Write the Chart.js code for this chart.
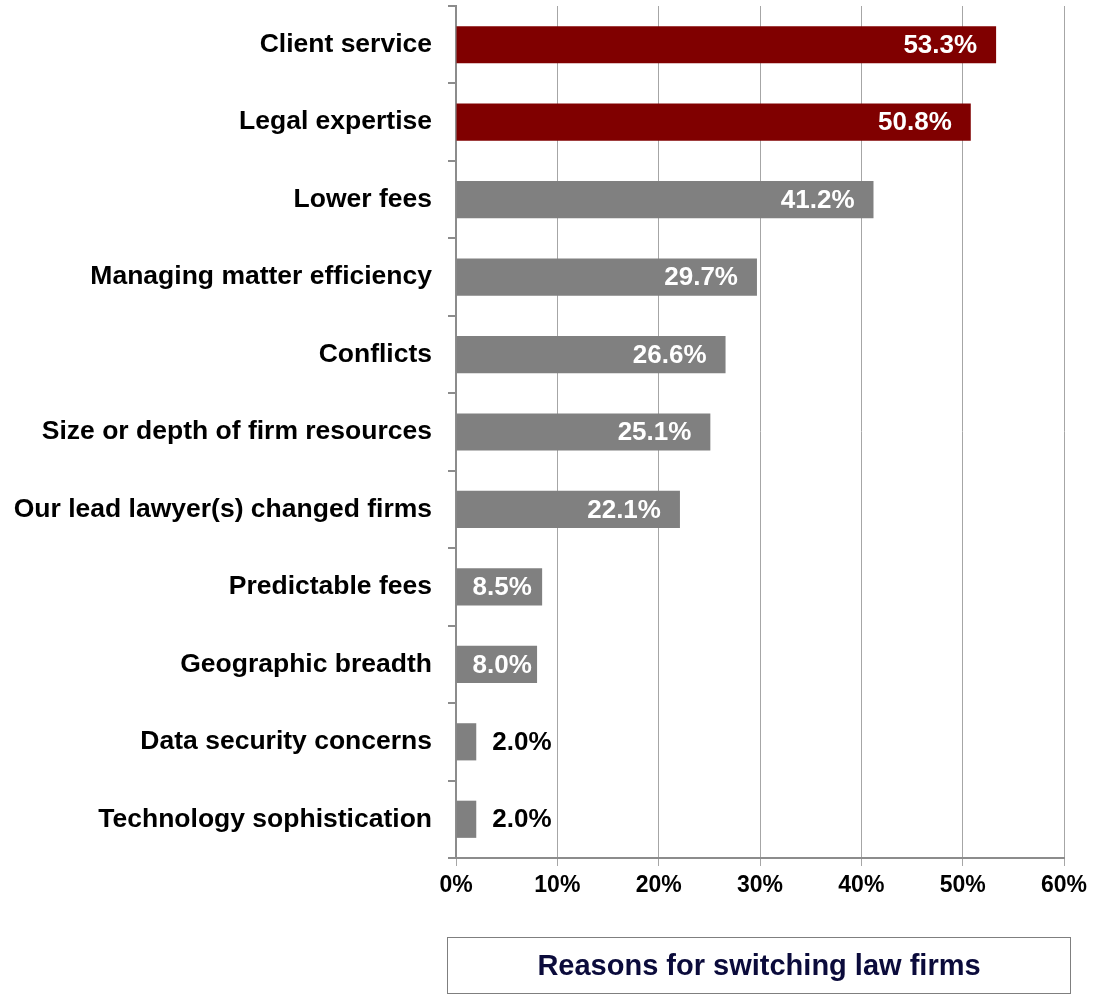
<!DOCTYPE html>
<html>
<head>
<meta charset="utf-8">
<script src="https://cdn.jsdelivr.net/npm/chart.js@4.4.1/dist/chart.umd.min.js"></script>
<style>
    html, body { margin: 0; padding: 0; background: #fff; }
    #wrap { position: relative; width: 1100px; height: 994px; }
    #title {
        position: absolute; left: 447px; top: 937px; width: 622px; height: 55px;
        border: 1px solid #7f7f7f; box-sizing: content-box;
        font: bold 29px "Liberation Sans", Arial, sans-serif; color: #0b0b3b;
        display: flex; align-items: center; justify-content: center;
    }
</style>
</head>
<body>
<div id="wrap">
    <canvas id="chart" width="1100" height="994"></canvas>
    <div id="title">Reasons for switching law firms</div>
</div>
<script>
const categories = [
    'Client service',
    'Legal expertise',
    'Lower fees',
    'Managing matter efficiency',
    'Conflicts',
    'Size or depth of firm resources',
    'Our lead lawyer(s) changed firms',
    'Predictable fees',
    'Geographic breadth',
    'Data security concerns',
    'Technology sophistication'
];
const values = [53.3, 50.8, 41.2, 29.7, 26.6, 25.1, 22.1, 8.5, 8.0, 2.0, 2.0];
const highlighted = [true, true, false, false, false, false, false, false, false, false, false];
const xTicks = [0, 10, 20, 30, 40, 50, 60];

const FONT = '"Liberation Sans", Arial, sans-serif';

// value labels: white at the inside end of the bar, black outside for short bars
const valueLabels = {
    id: 'valueLabels',
    afterDatasetsDraw(chart) {
        const ctx = chart.ctx;
        const meta = chart.getDatasetMeta(0);
        ctx.save();
        ctx.font = 'bold 26px ' + FONT;
        ctx.textBaseline = 'middle';
        ctx.textAlign = 'left';
        meta.data.forEach((bar, i) => {
            const text = values[i].toFixed(1) + '%';
            const w = ctx.measureText(text).width;
            const barW = bar.x - bar.base;
            if (barW > w + 16) {
                ctx.fillStyle = '#ffffff';
                const left = Math.max(bar.x - 19 - w, bar.base + 16);
                ctx.fillText(text, left, bar.y + 1);
            } else {
                ctx.fillStyle = '#000000';
                ctx.fillText(text, bar.x + 16, bar.y + 1);
            }
        });
        ctx.restore();
    }
};

new Chart(document.getElementById('chart'), {
    type: 'bar',
    data: {
        labels: categories,
        datasets: [{
            data: values,
            backgroundColor: highlighted.map(h => h ? '#800000' : '#808080'),
            categoryPercentage: 1,
            barPercentage: 0.48
        }]
    },
    options: {
        indexAxis: 'y',
        responsive: false,
        animation: false,
        layout: { padding: { top: 6, right: 36, left: 0, bottom: 0 } },
        plugins: {
            legend: { display: false },
            tooltip: { enabled: false }
        },
        scales: {
            x: {
                min: 0,
                max: 60,
                afterBuildTicks: scale => { scale.ticks = xTicks.map(v => ({ value: v })); },
                afterFit: scale => { scale.height = 136; },
                grid: { color: '#a6a6a6', lineWidth: 1, tickLength: 8, drawTicks: true },
                border: { color: '#8c8c8c', width: 2 },
                ticks: {
                    color: '#000',
                    padding: 6,
                    font: { family: FONT, size: 23, weight: 'bold' },
                    callback: v => v + '%'
                }
            },
            y: {
                afterFit: scale => {
                    scale.width = 456;
                    scale.paddingTop = 0;
                    scale.paddingBottom = 0;
                },
                grid: { offset: true, drawOnChartArea: false, tickLength: 8, color: '#8c8c8c', lineWidth: 2 },
                border: { color: '#8c8c8c', width: 2 },
                ticks: {
                    color: '#000',
                    padding: 16,
                    font: { family: FONT, size: 26.5, weight: 'bold' }
                }
            }
        }
    },
    plugins: [valueLabels]
});
</script>
</body>
</html>
